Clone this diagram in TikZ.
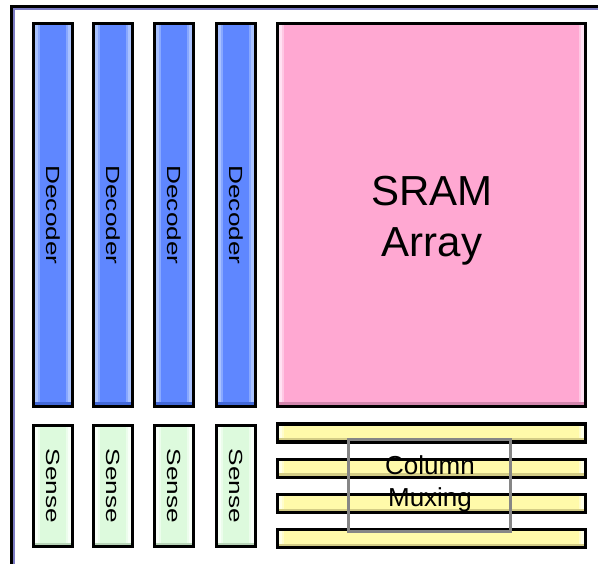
\documentclass[tikz,border=0pt]{standalone}
\usepackage{fontspec}
\setmainfont{Liberation Sans}
\usepackage{graphicx}
\usetikzlibrary{backgrounds,calc}
\definecolor{decblue}{HTML}{5F87FF}
\definecolor{dechi}{HTML}{A9C2FF}
\definecolor{declo}{HTML}{4369D8}
\definecolor{srampink}{HTML}{FFA8D2}
\definecolor{sramhi}{HTML}{FFE2F3}
\definecolor{sramlo}{HTML}{D286AC}
\definecolor{sensegreen}{HTML}{DDFADD}
\definecolor{sensehi}{HTML}{F8FFF8}
\definecolor{senselo}{HTML}{B8D4B8}
\definecolor{muxyellow}{HTML}{FFFAAA}
\definecolor{muxhi}{HTML}{FFFFE6}
\definecolor{muxlo}{HTML}{D3CC86}
\definecolor{framepurple}{HTML}{7C7CC4}
\definecolor{muxgray}{HTML}{868686}
\tikzset{
  block/.style={draw=black, line width=3.8pt, inner sep=0pt, outer sep=0pt},
  decoder/.style={block, minimum width=39pt, minimum height=383pt},
  sense/.style={block, minimum width=39pt, minimum height=121pt},
  muxbar/.style={block, minimum width=308pt, minimum height=18pt},
  sidelabel/.style={font=\fontsize{19}{19}\selectfont},
}
\newcommand{\vlabel}[1]{\rotatebox{-90}{\scalebox{1.38}[1]{#1}}}
% raised fill of a block: base colour, light side edges, darker bottom edge
\newcommand{\bevelfill}[4]{%
  \coordinate (bl) at (#1.south west);
  \coordinate (tr) at (#1.north east);
  \coordinate (br) at (#1.south east);
  \coordinate (tl) at (#1.north west);
  \fill[#2] (bl) rectangle (tr);
  \fill[#3] (bl) rectangle ($(tl)+(4.2pt,0pt)$);
  \fill[#3!55!#2] ($(bl)+(4.2pt,0pt)$) rectangle ($(tl)+(6.5pt,0pt)$);
  \fill[#3] ($(br)+(-4.2pt,0pt)$) rectangle (tr);
  \fill[#3!55!#2] ($(br)+(-6.5pt,0pt)$) rectangle ($(tr)+(-4.2pt,0pt)$);
  \fill[#4] (bl) rectangle ($(br)+(0pt,4pt)$);
}
\begin{document}
\begin{tikzpicture}[x=1pt, y=-1pt]
  \useasboundingbox (0,0) rectangle (598,564);
  % enclosing frame, open towards the right and bottom
  \draw[line width=2.6pt, black] (11.3,564) -- (11.3,6.3) -- (598,6.3);
  \draw[line width=1.6pt, framepurple] (13.8,564) -- (13.8,8.8) -- (598,8.8);

  % row decoders
  \node[decoder, sidelabel] (d1) at (53,215)  {\vlabel{Decoder}};
  \node[decoder, sidelabel] (d2) at (113,215) {\vlabel{Decoder}};
  \node[decoder, sidelabel] (d3) at (174,215) {\vlabel{Decoder}};
  \node[decoder, sidelabel] (d4) at (236,215) {\vlabel{Decoder}};

  % sense amplifiers
  \node[sense, sidelabel] (s1) at (53,486)  {\vlabel{Sense}};
  \node[sense, sidelabel] (s2) at (113,486) {\vlabel{Sense}};
  \node[sense, sidelabel] (s3) at (174,486) {\vlabel{Sense}};
  \node[sense, sidelabel] (s4) at (236,486) {\vlabel{Sense}};

  % memory array
  \node[block, minimum width=308pt, minimum height=383pt] (sram) at (431.5,215) {};
  \node[align=center, inner sep=0pt, font=\fontsize{42}{51}\selectfont] (sramlabel) at (432,221) {SRAM\\Array};

  % column multiplexer bars
  \node[muxbar] (b1) at (431.5,433)   {};
  \node[muxbar] (b2) at (431.5,468.5) {};
  \node[muxbar] (b3) at (431.5,503.5) {};
  \node[muxbar] (b4) at (431.5,538.5) {};

  % multiplexer outline and label
  \node[draw=muxgray, line width=3pt, inner sep=0pt, minimum width=162pt, minimum height=92pt] (mux) at (429.5,485.5) {};
  \node[align=center, inner sep=0pt, font=\fontsize{26}{32}\selectfont] (muxlabel) at (430,484) {Column\\Muxing};

  % block fills behind borders and labels
  \begin{pgfonlayer}{background}
    \fill[white] (0,0) rectangle (598,564);
    \foreach \n in {d1,d2,d3,d4} {\bevelfill{\n}{decblue}{dechi}{declo}}
    \foreach \n in {s1,s2,s3,s4} {\bevelfill{\n}{sensegreen}{sensehi}{senselo}}
    \bevelfill{sram}{srampink}{sramhi}{sramlo}
    \foreach \n in {b1,b2,b3,b4} {\bevelfill{\n}{muxyellow}{muxhi}{muxlo}}
  \end{pgfonlayer}
\end{tikzpicture}
\end{document}
